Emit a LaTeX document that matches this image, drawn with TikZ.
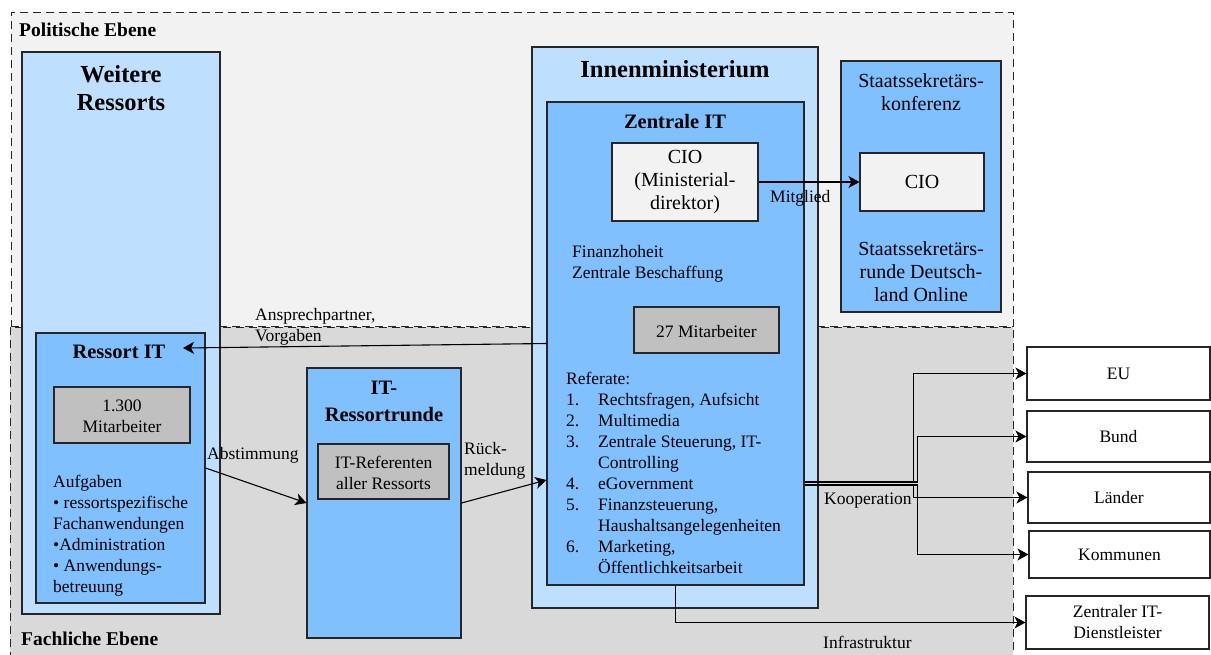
\documentclass[tikz,border=0pt]{standalone}
\usepackage{fontspec}
\setmainfont{Liberation Serif}
\usetikzlibrary{arrows.meta,fit,calc}

\definecolor{politbg}{HTML}{F2F2F2}
\definecolor{fachbg}{HTML}{D9D9D9}
\definecolor{lightblue}{HTML}{BFDFFF}
\definecolor{midblue}{HTML}{80C0FF}
\definecolor{boxgray}{HTML}{C0C0C0}
\definecolor{palegray}{HTML}{F2F2F2}
\definecolor{edgecol}{HTML}{262626}

\newcommand\txtsize{\fontsize{17.5}{21}\selectfont}
\newcommand\ciosize{\fontsize{20}{23}\selectfont}
\newcommand\bigtitle{\fontsize{24.5}{28}\selectfont\bfseries}
\newcommand\midtitle{\fontsize{20.5}{27}\selectfont\bfseries}
\newcommand\lvltitle{\fontsize{19.5}{22}\selectfont\bfseries}

\begin{document}
\begin{tikzpicture}[x=1pt,y=-1pt,
  lvlbox/.style={draw=edgecol, line width=1pt, dash pattern=on 8pt off 5pt, inner sep=0pt},
  boxline/.style={draw=edgecol, line width=1.1pt, inner sep=0pt},
  lightbox/.style={boxline, fill=lightblue},
  midbox/.style={boxline, fill=midblue},
  graybox/.style={boxline, fill=boxgray},
  ciobox/.style={boxline, fill=palegray},
  extbox/.style={boxline, fill=white},
  txt/.style={inner sep=0pt, font=\txtsize, align=center},
  ciotxt/.style={inner sep=0pt, font=\ciosize, align=center},
  bigt/.style={inner sep=0pt, font=\bigtitle, align=center},
  midt/.style={inner sep=0pt, font=\midtitle, align=center},
  lvlt/.style={inner sep=0pt, font=\lvltitle, anchor=west},
  lbl/.style={inner sep=0pt, font=\txtsize, align=left, anchor=west},
  arr/.style={draw=black, line width=1.1pt, -{Stealth[length=11pt,width=12pt,inset=3pt]}}
]
\useasboundingbox (0,0) rectangle (1211,654);
\clip (0,0) rectangle (1211,654);

% the two levels
\node[lvlbox, fill=politbg, fit={(11,12) (1013,326)}] (polit) {};
\node[lvlbox, fill=fachbg, fit={(10,327) (1013,700)}] (fach) {};
\node[lvlt] (politt) at (19,30) {Politische Ebene};
\node[lvlt] (facht) at (21,639) {Fachliche Ebene};

% other departments
\node[lightbox, fit={(22,52) (220,614)}] (weitere) {};
\node[bigt] (weiteret) at (121,88) {Weitere\\Ressorts};
\node[midbox, fit={(36,333) (205,603)}] (rit) {};
\node[midt] (ritt) at (119,352) {Ressort IT};
\node[graybox, fit={(54,387) (190,443)}] (rmit) {};
\node[txt] (rmitt) at ([yshift=-1pt]rmit.center) {1.300\\Mitarbeiter};
\node[lbl] (aufgaben) at (53,536) {Aufgaben\\
  • ressortspezifische\\
  Fachanwendungen\\
  •Administration\\
  • Anwendungs-\\
  betreuung};

% IT round of departments
\node[midbox, fit={(307,368) (461,638)}] (itrunde) {};
\node[midt] (itrundet) at (384,401.5) {IT-\\Ressortrunde};
\node[graybox, fit={(318,444) (449,499)}] (itref) {};
\node[txt] (itreft) at ([yshift=-1.5pt]itref.center) {IT-Referenten\\aller Ressorts};

% ministry of the interior
\node[lightbox, fit={(532,47) (818,608)}] (imin) {};
\node[bigt] (imint) at (675,69) {Innenministerium};
\node[midbox, fit={(547,102) (804,585)}] (zit) {};
\node[midt] (zitt) at (675,121) {Zentrale IT};
\node[ciobox, fit={(612,143) (758,221)}] (cio) {};
\node[ciotxt] (ciot) at (cio.center) {CIO\\(Ministerial-\\direktor)};
\node[lbl] (finanz) at (572,264) {Finanzhoheit\\Zentrale Beschaffung};
\node[graybox, fit={(634,307) (779,353)}] (zmit) {};
\node[txt] (zmitt) at ([yshift=-2pt]zmit.center) {27 Mitarbeiter};
\node[lbl] (referate) at (566,473) {Referate:\\
  \makebox[32pt][l]{1.}Rechtsfragen, Aufsicht\\
  \makebox[32pt][l]{2.}Multimedia\\
  \makebox[32pt][l]{3.}Zentrale Steuerung, IT-\\
  \hspace*{32pt}Controlling\\
  \makebox[32pt][l]{4.}eGovernment\\
  \makebox[32pt][l]{5.}Finanzsteuerung,\\
  \hspace*{32pt}Haushaltsangelegenheiten\\
  \makebox[32pt][l]{6.}Marketing,\\
  \hspace*{32pt}Öffentlichkeitsarbeit};

% conference of state secretaries
\node[midbox, fit={(841,61) (1001,312)}] (stk) {};
\node[ciotxt] (stkt) at (921,92) {Staatssekretärs-\\konferenz};
\node[ciobox, fit={(860,153) (984,211)}] (stcio) {};
\node[ciotxt] (stciot) at (stcio.center) {CIO};
\node[ciotxt] (stkr) at (921,272) {Staatssekretärs-\\runde Deutsch-\\land Online};

% external partners
\node[extbox, fit={(1027,347) (1210,400)}] (eu) {};
\node[txt] (eut) at (eu.center) {EU};
\node[extbox, fit={(1027,411) (1210,462)}] (bund) {};
\node[txt] (bundt) at (bund.center) {Bund};
\node[extbox, fit={(1028,472) (1210,523)}] (laender) {};
\node[txt] (laendert) at (laender.center) {Länder};
\node[extbox, fit={(1029,531) (1210,578)}] (kommunen) {};
\node[txt] (kommunent) at (kommunen.center) {Kommunen};
\node[extbox, fit={(1026,596) (1209,649)}] (dienst) {};
\node[txt] (dienstt) at (dienst.center) {Zentraler IT-\\Dienstleister};

% connectors
\coordinate (ansptip) at (183,348);
\draw[arr] (zit.west) -- (ansptip);
\node[lbl] (ansp) at (255,326.5) {Ansprechpartner,\\Vorgaben};

\draw[arr] (rit.east) -- (itrunde.west);
\node[lbl] (abst) at (207,455) {Abstimmung};

\draw[arr] (itrunde.east) -- ([yshift=-136.5pt]zit.west);
\node[lbl] (rueck) at (464,461) {Rück-\\meldung};

\draw[arr] (cio.east) -- (stcio.west);
\node[lbl] (mitglied) at (770,198) {Mitglied};

\draw[arr] ([yshift=-138.5pt]zit.east) -| ($(eu.west)+(-113,0)$) -- (eu.west);
\draw[arr] ([yshift=-138.5pt]zit.east) -| ($(bund.west)+(-109,0)$) -- (bund.west);
\draw[arr] ([yshift=-141.5pt]zit.east) -| ($(laender.west)+(-114,0)$) -- (laender.west);
\draw[arr] ([yshift=-141.5pt]zit.east) -| ($(kommunen.west)+(-111,0)$) -- (kommunen.west);
\node[lbl] (koop) at (824,501) {Kooperation};

\draw[arr] (zit.south) |- (dienst.west);
\node[lbl] (infra) at (823,642) {Infrastruktur};
\end{tikzpicture}
\end{document}
